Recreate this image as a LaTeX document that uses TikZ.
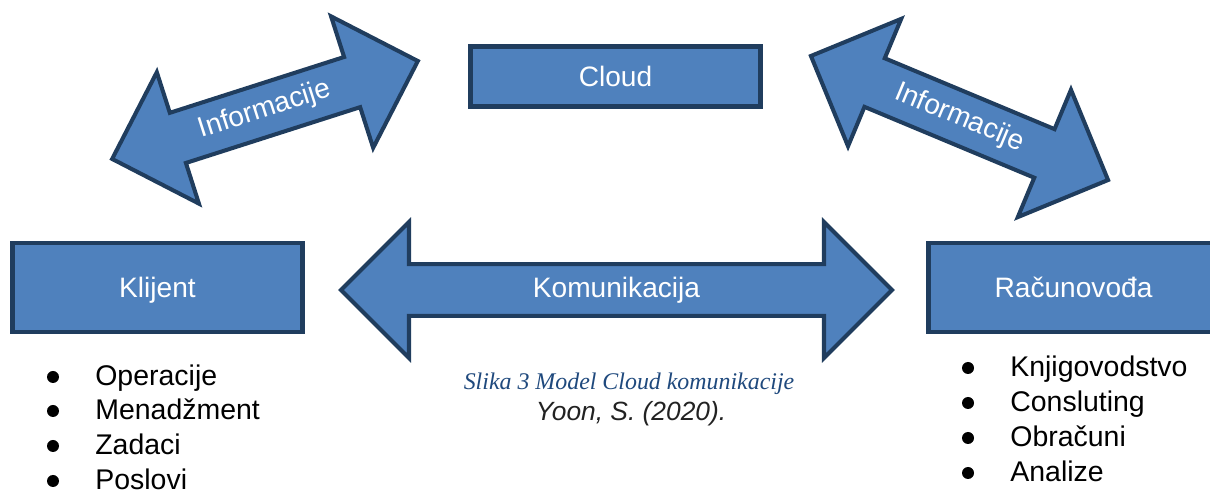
\documentclass[tikz,border=0pt]{standalone}
\usepackage{fontspec}
\setmainfont{Liberation Sans}
\newfontfamily\captionserif{Liberation Serif}
\usetikzlibrary{shapes.arrows,positioning}
\newcommand{\pxunit}{0.02cm}
\tikzset{
    boxsty/.style={draw=boxline,fill=boxblue,line width=2.3pt,rectangle,minimum width=290*\pxunit,text=white,font=\fontsize{16}{19}\selectfont,text height=11.5pt,text depth=0pt,anchor=center},
    dblarrowsty/.style={draw=boxline,fill=boxblue,line width=2.3pt,double arrow,double arrow head extend=34*\pxunit,minimum width=137*\pxunit,text=white,font=\fontsize{16}{19}\selectfont,anchor=center},
    itemsty/.style={font=\fontsize{16.2}{19}\selectfont,inner sep=0pt,anchor=base west},
    bulletsty/.style={fill=black,circle,inner sep=0pt,minimum size=12*\pxunit},
    captionsty/.style={font=\captionserif\itshape\fontsize{13.6}{16}\selectfont,text=captionblue,inner sep=0pt,anchor=base},
    sourcesty/.style={font=\itshape\fontsize{15}{18}\selectfont,text=sourcegray,inner sep=0pt,anchor=base},
}
\definecolor{boxblue}{HTML}{4F81BD}
\definecolor{boxline}{HTML}{203D5E}
\definecolor{captionblue}{HTML}{1F497D}
\definecolor{sourcegray}{HTML}{222222}

\begin{document}
\begin{tikzpicture}

\clip (0,0) rectangle (1210*\pxunit, -492*\pxunit);

\node (cloud) [boxsty, minimum height=60*\pxunit] at (615.5*\pxunit, -76.5*\pxunit) {Cloud};
\node (klijent) [boxsty, minimum height=89*\pxunit] at (157.5*\pxunit, -287.5*\pxunit) {Klijent};
\node (racunovodja) [boxsty, minimum height=89*\pxunit] at (1073.5*\pxunit, -287.5*\pxunit) {Računovođa};

\node (infoleft) [dblarrowsty, minimum height=321*\pxunit, minimum width=138*\pxunit, rotate=17.76] at (265*\pxunit, -110*\pxunit) {Informacije};
\node (inforight) [dblarrowsty, minimum height=322*\pxunit, minimum width=138*\pxunit, rotate=-22.66] at (959.5*\pxunit, -118*\pxunit) {Informacije};
\node (komunikacija) [dblarrowsty, minimum height=551*\pxunit, minimum width=136*\pxunit] at (616.5*\pxunit, -290*\pxunit) {Komunikacija};

\node (klItem1) [itemsty] at (95*\pxunit, -386*\pxunit) {Operacije};
\node (klItem2) [itemsty] at (95*\pxunit, -420*\pxunit) {Menadžment};
\node (klItem3) [itemsty] at (95*\pxunit, -455*\pxunit) {Zadaci};
\node (klItem4) [itemsty] at (95*\pxunit, -490*\pxunit) {Poslovi};
\node (klBullet1) [bulletsty] at (53*\pxunit, -377*\pxunit) {};
\node (klBullet2) [bulletsty] at (53*\pxunit, -411*\pxunit) {};
\node (klBullet3) [bulletsty] at (53*\pxunit, -446*\pxunit) {};
\node (klBullet4) [bulletsty] at (53*\pxunit, -481*\pxunit) {};

\node (raItem1) [itemsty] at (1010*\pxunit, -377*\pxunit) {Knjigovodstvo};
\node (raItem2) [itemsty] at (1010*\pxunit, -412*\pxunit) {Consluting};
\node (raItem3) [itemsty] at (1010*\pxunit, -447*\pxunit) {Obračuni};
\node (raItem4) [itemsty] at (1010*\pxunit, -482*\pxunit) {Analize};
\node (raBullet1) [bulletsty] at (968*\pxunit, -368*\pxunit) {};
\node (raBullet2) [bulletsty] at (968*\pxunit, -403*\pxunit) {};
\node (raBullet3) [bulletsty] at (968*\pxunit, -438*\pxunit) {};
\node (raBullet4) [bulletsty] at (968*\pxunit, -473*\pxunit) {};

\node (caption) [captionsty] at (629*\pxunit, -390*\pxunit) {Slika 3 Model Cloud komunikacije};
\node (source) [sourcesty] at (631*\pxunit, -421*\pxunit) {Yoon, S. (2020).};

\end{tikzpicture}
\end{document}
